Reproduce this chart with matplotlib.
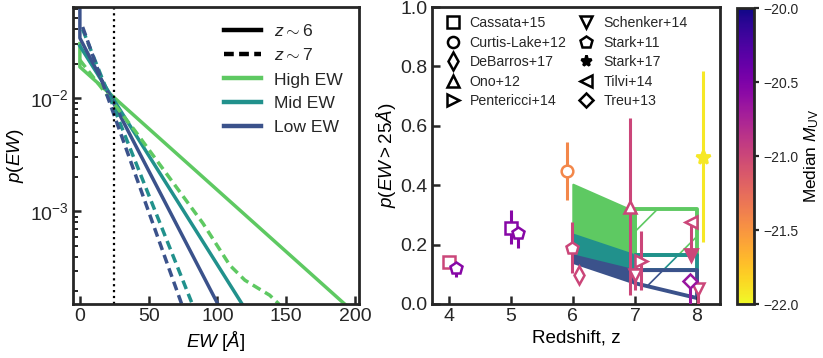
import numpy as np
import matplotlib
matplotlib.use('Agg')
import matplotlib.pyplot as plt
from matplotlib import colors
from matplotlib.lines import Line2D

plt.rcParams['font.family'] = ['Liberation Sans', 'DejaVu Sans']
plt.rcParams['mathtext.fontset'] = 'custom'
plt.rcParams['mathtext.rm'] = 'Liberation Sans'
plt.rcParams['mathtext.it'] = 'Liberation Sans:italic'
plt.rcParams['mathtext.bf'] = 'Liberation Sans:bold'
plt.rcParams['hatch.linewidth'] = 0.6
plt.rcParams['axes.edgecolor'] = '#262626'
plt.rcParams['text.color'] = '#262626'
plt.rcParams['xtick.color'] = '#262626'
plt.rcParams['ytick.color'] = '#262626'

DPI = 200
FS = 7.0     # tick labels
LFS = 6.8    # axis labels

# ---- left panel: p(EW) for the three models at z~6 (solid) and z~7 (dashed)
ew_high6 = [0, 0, 200]
p_high6 = [0.030, 0.0187, 1.27e-4]
ew_mid6 = [0, 125]
p_mid6 = [0.0286, 1.12e-4]
ew_low6 = [0, 0, 105]
p_low6 = [0.08, 0.0336, 1.19e-4]

ew_high7 = [0, 40, 89.5, 109, 120, 129.5, 138, 144, 150]
p_high7 = [0.0215, 5.14e-3, 7.85e-4, 3.36e-4, 2.48e-4, 2.11e-4, 1.83e-4, 1.56e-4, 1.3e-4]
ew_mid7 = [2, 90]
p_mid7 = [0.040, 8.6e-5]
ew_low7 = [2, 80]
p_low7 = [0.042, 9.6e-5]

ew_cut = 25

# ---- right panel: model predictions for p(EW>25A)
z_67 = [6, 7]
high_lo_67 = [0.235, 0.165]
high_hi_67 = [0.403, 0.311]
mid_lo_67 = [0.165, 0.114]
mid_hi_67 = [0.235, 0.165]
low_lo_67 = [0.140, 0.070]
low_hi_67 = [0.165, 0.114]

z_78 = [7, 8]
high_lo_78 = [0.165, 0.165]
high_hi_78 = [0.319, 0.319]
mid_lo_78 = [0.114, 0.114]
mid_hi_78 = [0.165, 0.165]
low_lo_78 = [0.070, 0.020]
low_hi_78 = [0.114, 0.114]

# observations: z, p, err_lo, err_hi, median M_UV
cassata_z = [4.0, 5.0]
cassata_p = [0.142, 0.257]
cassata_elo = [0.0, 0.055]
cassata_ehi = [0.0, 0.06]
cassata_m = [-21.0, -20.55]

curtis_z = [5.9]
curtis_p = [0.448]
curtis_elo = [0.098]
curtis_ehi = [0.098]
curtis_m = [-21.42]

debarros_z = [6.1]
debarros_p = [0.098]
debarros_elo = [0.0]
debarros_ehi = [0.0]
debarros_m = [-21.0]

ono_z = [6.92]
ono_p = [0.328]
ono_elo = [0.298]
ono_ehi = [0.297]
ono_m = [-21.0]

pentericci_z = [7.1]
pentericci_p = [0.145]
pentericci_elo = [0.098]
pentericci_ehi = [0.101]
pentericci_m = [-21.0]

schenker_z = [7.0, 8.01]
schenker_p = [0.098, 0.05]
schenker_elo = [0.05, 0.05]
schenker_ehi = [0.016, 0.0]
schenker_m = [-21.0, -21.0]

stark11_z = [4.12, 5.12, 5.99]
stark11_p = [0.12, 0.238, 0.19]
stark11_elo = [0.03, 0.051, 0.087]
stark11_ehi = [0.0, 0.022, 0.087]
stark11_m = [-20.55, -20.55, -21.0]

stark17_z = [8.1]
stark17_p = [0.495]
stark17_elo = [0.285]
stark17_ehi = [0.29]
stark17_m = [-21.92]

tilvi_z = [7.91]
tilvi_p = [0.277]
tilvi_lim = [0.165]
tilvi_m = [-21.0]

treu_z = [7.89]
treu_p = [0.077]
treu_elo = [0.077]
treu_ehi = [0.0]
treu_m = [-20.65]

c_high = '#5ec962'
c_mid = '#21918c'
c_low = '#3b528b'

fig = plt.figure(figsize=(823 / DPI, 358 / DPI), dpi=DPI)
ax1 = fig.add_axes([73 / 823, 54 / 358, 286 / 823, 297 / 358])
ax2 = fig.add_axes([432 / 823, 54 / 358, 288 / 823, 297 / 358])
cax = fig.add_axes([737 / 823, 54 / 358, 17 / 823, 296 / 358])

lw = 1.25
ax1.plot(ew_high6, p_high6, color=c_high, lw=lw)
ax1.plot(ew_mid6, p_mid6, color=c_mid, lw=lw)
ax1.plot(ew_low6, p_low6, color=c_low, lw=lw)
ds = (0, (2.6, 1.5))
ax1.plot(ew_high7, p_high7, color=c_high, lw=lw, ls=ds)
ax1.plot(ew_mid7, p_mid7, color=c_mid, lw=lw, ls=ds)
ax1.plot(ew_low7, p_low7, color=c_low, lw=lw, ls=ds)
ax1.axvline(ew_cut, color='k', lw=0.8, ls=':')

ax1.set_yscale('log')
ax1.set_xlim(-5, 203)
ax1.set_ylim(1.53e-4, 0.063)
ax1.set_xticks([0, 50, 100, 150, 200])
ax1.set_xlabel(r'$EW\ [\AA]$', fontsize=LFS, labelpad=1.5)
ax1.set_ylabel(r'$p(EW)$', fontsize=LFS, labelpad=1.5)

hl = [Line2D([], [], color='k', lw=1.6),
      Line2D([], [], color='k', lw=1.6, ls=(0, (2.2, 1.2))),
      Line2D([], [], color=c_high, lw=1.6),
      Line2D([], [], color=c_mid, lw=1.6),
      Line2D([], [], color=c_low, lw=1.6)]
ax1.legend(hl, [r'$z\sim6$', r'$z\sim7$', 'High EW', 'Mid EW', 'Low EW'],
           loc='upper right', frameon=False, fontsize=6.3, handlelength=2.1,
           handletextpad=0.8, labelspacing=0.5, borderaxespad=0.5)

# model bands
for lo, hi, c in [(high_lo_67, high_hi_67, c_high), (mid_lo_67, mid_hi_67, c_mid),
                  (low_lo_67, low_hi_67, c_low)]:
    ax2.fill_between(z_67, lo, hi, color=c, lw=0.8, zorder=1)
for lo, hi, c in [(high_lo_78, high_hi_78, c_high), (mid_lo_78, mid_hi_78, c_mid),
                  (low_lo_78, low_hi_78, c_low)]:
    ax2.fill_between(z_78, lo, hi, facecolor='none', edgecolor=c, hatch='/',
                     lw=1.4, zorder=1)

cmap = plt.get_cmap('plasma_r')
norm = colors.Normalize(vmin=-22, vmax=-20)


def obs(z, p, elo, ehi, m, mk, ms):
    for i in range(len(z)):
        c = cmap(norm(m[i]))
        ax2.errorbar(z[i], p[i], yerr=[[elo[i]], [ehi[i]]], fmt=mk, color=c,
                     mfc='white', mec=c, ms=ms, mew=0.9, elinewidth=1.1,
                     capsize=0, zorder=3)


obs(cassata_z, cassata_p, cassata_elo, cassata_ehi, cassata_m, 's', 4.0)
obs(curtis_z, curtis_p, curtis_elo, curtis_ehi, curtis_m, 'o', 4.2)
obs(debarros_z, debarros_p, debarros_elo, debarros_ehi, debarros_m, 'd', 4.6)
obs(ono_z, ono_p, ono_elo, ono_ehi, ono_m, '^', 4.6)
obs(pentericci_z, pentericci_p, pentericci_elo, pentericci_ehi, pentericci_m, '>', 4.6)
obs(schenker_z, schenker_p, schenker_elo, schenker_ehi, schenker_m, 'v', 4.6)
obs(stark11_z, stark11_p, stark11_elo, stark11_ehi, stark11_m, 'p', 4.4)
obs(treu_z, treu_p, treu_elo, treu_ehi, treu_m, 'D', 3.8)
for i in range(len(tilvi_z)):
    c = cmap(norm(tilvi_m[i]))
    ax2.plot([tilvi_z[i], tilvi_z[i]], [tilvi_p[i], tilvi_lim[i]], color=c, lw=1.1, zorder=3)
    ax2.plot(tilvi_z[i], tilvi_lim[i], 'v', color=c, ms=4.2, zorder=3)
    ax2.plot(tilvi_z[i], tilvi_p[i], '<', color=c, mfc='white', mec=c, ms=4.6, mew=0.9, zorder=3)
for i in range(len(stark17_z)):
    c = cmap(norm(stark17_m[i]))
    ax2.errorbar(stark17_z[i], stark17_p[i], yerr=[[stark17_elo[i]], [stark17_ehi[i]]],
                 fmt='*', color=c, ms=5.0, elinewidth=1.1, capsize=0, zorder=3)

ax2.set_xlim(3.73, 8.37)
ax2.set_ylim(0, 1)
ax2.set_xticks([4, 5, 6, 7, 8])
ax2.set_yticks([0, 0.2, 0.4, 0.6, 0.8, 1.0])
ax2.set_xlabel('Redshift, z', fontsize=LFS, labelpad=1.5)
ax2.set_ylabel(r'$p(EW > 25\AA)$', fontsize=LFS, labelpad=1)

names = ['Cassata+15', 'Curtis-Lake+12', 'DeBarros+17', 'Ono+12', 'Pentericci+14',
         'Schenker+14', 'Stark+11', 'Stark+17', 'Tilvi+14', 'Treu+13']
marks = ['s', 'o', 'd', '^', '>', 'v', 'p', '*', '<', 'D']
sizes = [4.0, 4.0, 4.4, 4.4, 4.4, 4.4, 4.4, 4.0, 4.4, 3.8]
hs = []
for mk, ms in zip(marks, sizes):
    if mk == '*':
        hs.append(Line2D([], [], ls='none', marker=mk, color='k', ms=ms))
    else:
        hs.append(Line2D([], [], ls='none', marker=mk, mfc='none', mec='k', ms=ms, mew=0.9))
ax2.legend(hs, names, loc='upper left', ncol=2, frameon=False, fontsize=5.1,
           handlelength=1.6, handletextpad=0.4, columnspacing=0.6,
           labelspacing=0.38, borderaxespad=0.26)

for ax in (ax1, ax2):
    for s in ax.spines.values():
        s.set_linewidth(1.0)
    ax.tick_params(which='major', direction='in', length=2.9, width=0.9,
                   labelsize=FS, pad=1.5)
    ax.tick_params(which='minor', direction='in', length=1.8, width=0.7)

sm = plt.cm.ScalarMappable(norm=norm, cmap=cmap)
cb = fig.colorbar(sm, cax=cax)
cb.set_ticks([-22, -21.5, -21, -20.5, -20])
cb.ax.set_yticklabels(['\u221222.0', '\u221221.5', '\u221221.0', '\u221220.5', '\u221220.0'])
cb.outline.set_linewidth(1.0)
cb.ax.tick_params(direction='out', length=1.8, width=0.8, labelsize=5.0, pad=1.5)
cb.set_label(r'Median $M_{\rm UV}$', fontsize=6.2, labelpad=1.5)

fig.savefig('out.png', dpi=DPI)
